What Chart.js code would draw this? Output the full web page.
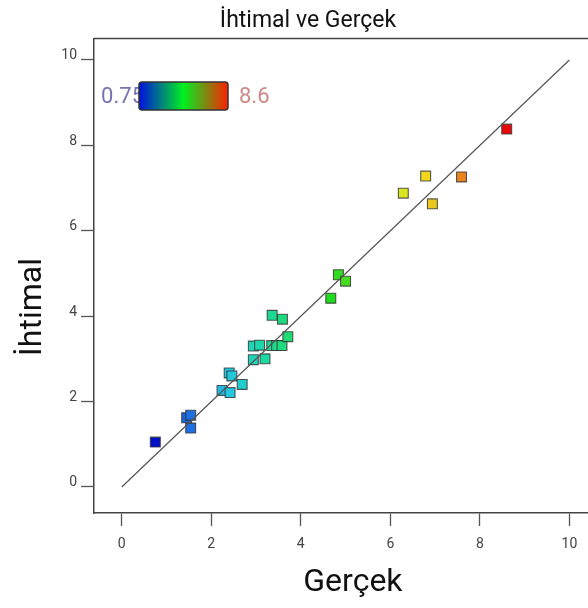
<!DOCTYPE html>
<html>
<head>
<meta charset="utf-8">
<title>İhtimal ve Gerçek</title>
<script src="https://cdn.jsdelivr.net/npm/chart.js@4/dist/chart.umd.min.js"></script>
<style>
    html, body { margin: 0; padding: 0; background: #fff; overflow: hidden; }
    #wrap { width: 588px; height: 608px; overflow: hidden; }
    canvas { display: block; }
</style>
</head>
<body>
<div id="wrap"><canvas id="chart" width="620" height="608"></canvas></div>
<script>
// ========== data ==========
var actualVals = [0.75, 1.45, 1.54, 1.54, 2.24, 2.42, 2.40, 2.46, 2.69, 2.94, 3.20, 2.94, 3.08, 3.35,
                  3.46, 3.58, 3.71, 3.36, 3.59, 4.67, 4.84, 5.00, 6.29, 6.79, 6.94, 7.59, 8.6];
var predictedVals = [1.05, 1.62, 1.68, 1.38, 2.26, 2.21, 2.67, 2.60, 2.40, 2.98, 3.00, 3.30, 3.32, 3.31,
                     3.31, 3.31, 3.52, 4.02, 3.93, 4.42, 4.97, 4.82, 6.88, 7.28, 6.63, 7.26, 8.38];
var colorMin = 0.75;
var colorMax = 8.6;
var tickValues = [0, 2, 4, 6, 8, 10];
var fitLine = [0, 10];

// ========== colour scale ==========
var stops = [
    [0.0, [0, 16, 200]],
    [0.1, [30, 110, 225]],
    [0.2, [35, 195, 230]],
    [0.3, [30, 215, 170]],
    [0.4, [30, 220, 100]],
    [0.5, [30, 220, 30]],
    [0.7, [215, 230, 30]],
    [0.77, [240, 215, 30]],
    [0.8, [230, 190, 30]],
    [0.9, [235, 110, 30]],
    [1.0, [230, 10, 10]]
];

function colorFor(v) {
    var t = (v - colorMin) / (colorMax - colorMin);
    t = Math.max(0, Math.min(1, t));
    for (var i = 1; i < stops.length; i++) {
        if (t <= stops[i][0]) {
            var a = stops[i - 1], b = stops[i];
            var f = (t - a[0]) / (b[0] - a[0]);
            var c = a[1].map(function(x, k) { return Math.round(x + (b[1][k] - x) * f); });
            return 'rgb(' + c.join(',') + ')';
        }
    }
    return 'rgb(230,10,10)';
}

var points = actualVals.map(function(x, i) { return { x: x, y: predictedVals[i] }; });
var pointColors = actualVals.map(colorFor);

// ========== extra drawing: top frame, y title, colour bar ==========
var decorations = {
    id: 'decorations',
    afterDraw: function(chart) {
        var ctx = chart.ctx;
        var area = chart.chartArea;
        ctx.save();

        // top edge of the frame
        ctx.strokeStyle = '#444';
        ctx.lineWidth = 1.5;
        ctx.beginPath();
        ctx.moveTo(area.left, area.top);
        ctx.lineTo(area.right, area.top);
        ctx.stroke();

        // y axis title
        ctx.translate(33, 307);
        ctx.rotate(-Math.PI / 2);
        ctx.fillStyle = '#111';
        ctx.font = '32px Roboto';
        ctx.textAlign = 'center';
        ctx.textBaseline = 'middle';
        ctx.fillText('İhtimal', 0, 0);
        ctx.setTransform(1, 0, 0, 1, 0, 0);

        // colour bar legend
        ctx.font = '22px Roboto';
        ctx.textBaseline = 'middle';
        ctx.textAlign = 'right';
        ctx.fillStyle = '#7373b3';
        ctx.fillText('0.75', 144, 97);
        ctx.textAlign = 'left';
        ctx.fillStyle = '#cc8a8a';
        ctx.fillText('8.6', 239, 97);

        var g = ctx.createLinearGradient(139, 0, 228, 0);
        g.addColorStop(0, '#0010e0');
        g.addColorStop(0.5, '#00f020');
        g.addColorStop(1, '#ff2000');
        ctx.fillStyle = g;
        ctx.strokeStyle = '#333';
        ctx.lineWidth = 1.5;
        ctx.beginPath();
        ctx.roundRect(139, 82, 89, 28, 3);
        ctx.fill();
        ctx.stroke();

        ctx.restore();
    }
};

// ========== chart ==========
var ctx = document.getElementById('chart').getContext('2d');
new Chart(ctx, {
    type: 'scatter',
    data: {
        datasets: [
            {
                type: 'line',
                data: fitLine.map(function(v) { return { x: v, y: v }; }),
                borderColor: '#555',
                borderWidth: 1.2,
                pointRadius: 0,
                fill: false
            },
            {
                data: points,
                pointStyle: 'rect',
                pointRadius: 7,
                pointBackgroundColor: pointColors,
                pointBorderColor: 'rgba(50,50,50,0.8)',
                pointBorderWidth: 1.1
            }
        ]
    },
    options: {
        responsive: false,
        animation: false,
        layout: { padding: { left: 0, right: 4, top: 0, bottom: 0 } },
        plugins: {
            legend: { display: false },
            tooltip: { enabled: false },
            title: {
                display: true,
                text: 'İhtimal ve Gerçek',
                color: '#111',
                font: { family: 'Roboto', size: 23, weight: 'normal' },
                padding: { top: 7, bottom: 4 }
            }
        },
        scales: {
            x: {
                type: 'linear',
                min: -0.62,
                max: 10.95,
                afterBuildTicks: function(scale) {
                    scale.ticks = tickValues.map(function(v) { return { value: v }; });
                },
                afterFit: function(scale) { scale.height = 95; },
                grid: { drawOnChartArea: false, drawTicks: true, tickLength: 13, tickColor: '#555', tickWidth: 1.3 },
                border: { color: '#444', width: 1.5 },
                ticks: { color: '#444', padding: 10, font: { family: 'Roboto', size: 14 } },
                title: {
                    display: true,
                    text: 'Gerçek',
                    color: '#111',
                    font: { family: 'Roboto', size: 32 },
                    padding: { top: 0, bottom: 6 }
                }
            },
            y: {
                type: 'linear',
                min: -0.61,
                max: 10.5,
                afterBuildTicks: function(scale) {
                    scale.ticks = tickValues.map(function(v) { return { value: v }; });
                },
                afterFit: function(scale) { scale.width = 94; },
                grid: { drawOnChartArea: false, drawTicks: true, tickLength: 13, tickColor: '#555', tickWidth: 1.3 },
                border: { color: '#444', width: 1.5 },
                ticks: { color: '#444', padding: 4, labelOffset: -4, font: { family: 'Roboto', size: 14 } }
            }
        }
    },
    plugins: [decorations]
});
</script>
</body>
</html>
